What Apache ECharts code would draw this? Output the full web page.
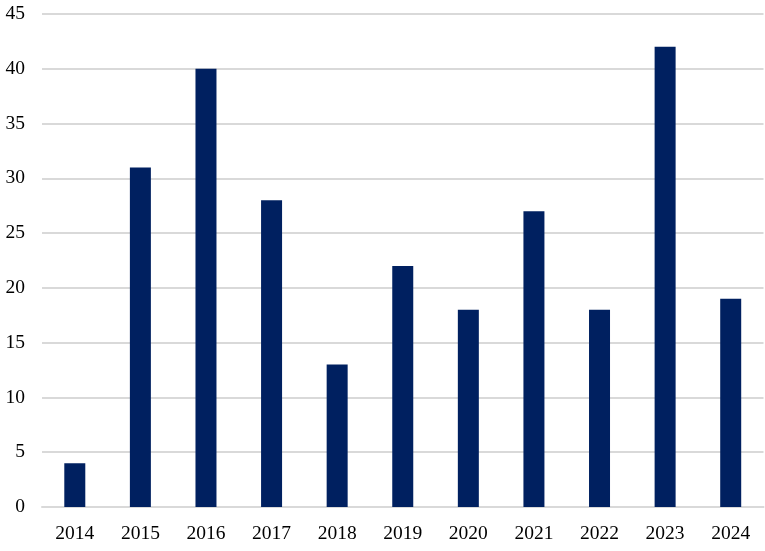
<!DOCTYPE html>
<html><head><meta charset="utf-8">
<script src="https://cdn.jsdelivr.net/npm/echarts@6/dist/echarts.min.js"></script>
<style>html,body{margin:0;padding:0;background:#fff}#c{width:765px;height:551px}</style>
</head><body><div id="c"></div>
<script>
const categories = ['2014','2015','2016','2017','2018','2019','2020','2021','2022','2023','2024'];
const values = [4,31,40,28,13,22,18,27,18,42,19];
const yTicks = {min:0, max:45, interval:5};
const chart = echarts.init(document.getElementById('c'));
const font = 'Liberation Serif, Times New Roman, serif';
chart.setOption({
  animation:false,
  grid:{left:42, right:1.5, top:14, bottom:44, containLabel:false},
  xAxis:{type:'category', data:categories,
    axisLine:{show:true, lineStyle:{color:'#d9d9d9', width:2}},
    axisTick:{show:false},
    axisLabel:{color:'#000', fontFamily:font, fontSize:19.5, margin:17}},
  yAxis:{type:'value', min:yTicks.min, max:yTicks.max, interval:yTicks.interval,
    axisLine:{show:false}, axisTick:{show:false},
    splitLine:{lineStyle:{color:'#d9d9d9', width:2}},
    axisLabel:{color:'#000', fontFamily:font, fontSize:19.5, margin:17}},
  series:[{type:'bar', data:values, barWidth:21, itemStyle:{color:'#002060'}}]
});
</script></body></html>
